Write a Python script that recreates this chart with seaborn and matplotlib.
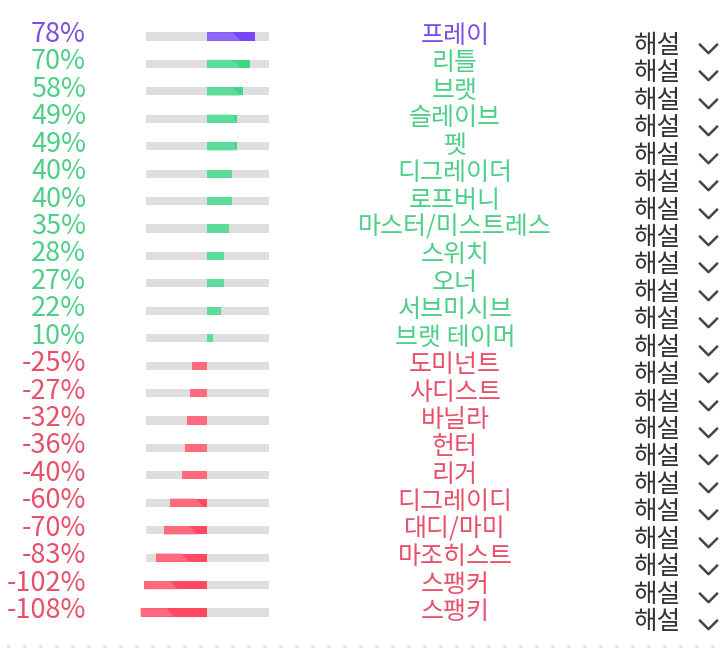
import numpy as np
import matplotlib
matplotlib.use("Agg")
import matplotlib.pyplot as plt
from matplotlib.patches import Polygon
from matplotlib.path import Path
import seaborn as sns

# data
names = ["프레이", "리틀", "브랫", "슬레이브", "펫", "디그레이더", "로프버니",
         "마스터/미스트레스", "스위치", "오너", "서브미시브", "브랫 테이머",
         "도미넌트", "사디스트", "바닐라", "헌터", "리거", "디그레이디",
         "대디/마미", "마조히스트", "스팽커", "스팽키"]
scores = [78, 70, 58, 49, 49, 40, 40, 35, 28, 27, 22, 10,
          -25, -27, -32, -36, -40, -60, -70, -83, -102, -108]
btn_label = "해설"

sns.set_theme(style="white")
plt.rcParams["font.family"] = ["Noto Sans CJK KR", "DejaVu Sans"]

def kind(i, v):
    if i == 0:
        return "top"
    return "pos" if v > 0 else "neg"

text_col = {"top": "#7b4ee6", "pos": "#4ccf86", "neg": "#e84f69"}
bar_dark = {"top": "#7a45f5", "pos": "#3fd688", "neg": "#ff4862"}
bar_light = {"top": "#8d68f6", "pos": "#5ddb9b", "neg": "#ff6a7e"}
kinds = [kind(i, v) for i, v in enumerate(scores)]

fig = plt.figure(figsize=(7.22, 6.48), dpi=100)
ax = fig.add_axes([0, 0, 1, 1])

n = len(names)
rows = np.arange(n)
bh = 0.3

# grey track
ax.barh(rows, 200, left=-100, height=bh, color="#dedede", linewidth=0, zorder=1)

# score bars
sns.barplot(x=scores, y=names, hue=names, order=names, hue_order=names,
            palette=[bar_dark[k] for k in kinds], orient="h", width=bh,
            dodge=False, legend=False, saturation=1, linewidth=0, ax=ax, zorder=2)

# lighter left part of each bar with a slanted edge
for i, v in enumerate(scores):
    left, right = min(0, v), max(0, v)
    top_w, bot_w = 42, 54
    poly = Polygon([(left, i - bh / 2), (min(left + top_w, right), i - bh / 2),
                    (min(left + bot_w, right), i + bh / 2), (left, i + bh / 2)],
                   closed=True, facecolor=bar_light[kinds[i]], edgecolor="none",
                   linewidth=0, zorder=3)
    ax.add_patch(poly)

px_per_pct = 0.615
zero_px = 207
ax.set_xlim(-zero_px / px_per_pct, (722 - zero_px) / px_per_pct)
row_px = 27.43
first_px = 36.5
ax.set_ylim((648 - first_px) / row_px, -first_px / row_px)
ax.axis("off")

trans = matplotlib.transforms.blended_transform_factory(ax.transAxes, ax.transData)
for i, (nm, v) in enumerate(zip(names, scores)):
    c = text_col[kinds[i]]
    ax.text(86 / 722, i + 0.2, f"{v}%", transform=trans, ha="right",
            va="baseline", fontsize=19.5, color=c)
    ax.text(455 / 722, i + 0.235, nm, transform=trans, ha="center",
            va="baseline", fontsize=18, color=c)
    ax.text(634 / 722, i + 0.6, btn_label, transform=trans, ha="left",
            va="baseline", fontsize=18.5, color="#333333")

chev = Path([(-1, 0.5), (0, -0.5), (1, 0.5)])
ax.plot(np.full(n, 708 / 722), rows + 0.42, transform=trans, linestyle="none",
        marker=chev, markersize=13.5, markerfacecolor="none",
        markeredgecolor="#444444", markeredgewidth=1.8)

# dotted bottom divider
ax.plot([8 / 722, 1], [0.003, 0.003], transform=ax.transAxes, color="#e3e3e3",
        linewidth=2.5, linestyle=(0, (0.01, 4.6)), dash_capstyle="round")

fig.savefig("out.png", dpi=100)
